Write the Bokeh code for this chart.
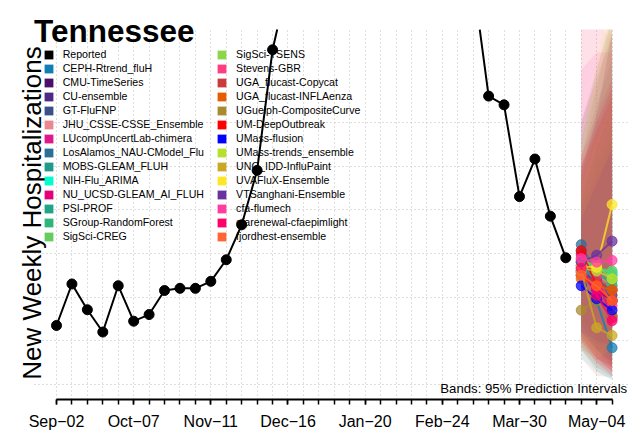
import math
import numpy as np
import pandas as pd
from bokeh.plotting import figure
from bokeh.models import (Range1d, FixedTicker, Legend, LegendItem, Label,
                          DatetimeTickFormatter)
from bokeh.embed import file_html
from bokeh.resources import INLINE

# ---------------- data ----------------
first_week = "2023-09-02"
last_axis_week = "2024-05-11"
reported = [67.5, 115, 85.5, 60, 113, 72.4, 80, 107.5, 110, 110, 118, 142.7,
            182.7, 245, 383, 460, 620, 760, 700, 560, 500, 470, 480, 510,
            530, 520, 500, 463, 330, 320, 215, 258, 192.6, 145]
forecast_weeks = ["2024-04-27", "2024-05-04", "2024-05-11"]

models = ["CEPH-Rtrend_fluH", "CMU-TimeSeries", "CU-ensemble", "GT-FluFNP",
          "JHU_CSSE-CSSE_Ensemble", "LUcompUncertLab-chimera",
          "LosAlamos_NAU-CModel_Flu", "MOBS-GLEAM_FLUH", "NIH-Flu_ARIMA",
          "NU_UCSD-GLEAM_AI_FLUH", "PSI-PROF", "SGroup-RandomForest",
          "SigSci-CREG", "SigSci-TSENS", "Stevens-GBR", "UGA_flucast-Copycat",
          "UGA_flucast-INFLAenza", "UGuelph-CompositeCurve", "UM-DeepOutbreak",
          "UMass-flusion", "UMass-trends_ensemble", "UNC_IDD-InfluPaint",
          "UVAFluX-Ensemble", "VTSanghani-Ensemble", "cfa-flumech",
          "cfarenewal-cfaepimlight", "fjordhest-ensemble"]
colors = ["#117DB5", "#4B0F6B", "#4C2A85", "#3D4F8B", "#E8888F", "#E0198A",
          "#2D6E94", "#1F9A8A", "#00FFCC", "#E6007E", "#20A386", "#2DB57A",
          "#66CC5C", "#8CD64A", "#FF3D7F", "#CC3B3B", "#E65C00", "#A88B2E",
          "#FF0000", "#0000FF", "#B5E02E", "#C9A923", "#FDE725", "#6A329F",
          "#FF3DA0", "#FF0066", "#FF6633"]

median_h0 = [153, 125, 130, 128, 140, 133, 160, 136, 140, 148, 130, 136, 140,
             142, 144, 125, 121, 85, 153, 113, 133, 130, 135, 140, 144, 133, 125]
median_h1 = [96, 108, 113, 119, 125, 108, 125, 133, 133, 119, 125, 130, 133,
             136, 125, 117, 113, 96, 113, 98, 130, 65, 134, 148, 140, 102, 113]
median_h2 = [42, 96, 102, 108, 113, 76, 96, 125, 128, 78, 119, 113, 130,
             121, 90, 108, 108, 79, 96, 85, 121, 56, 206, 164, 142, 73, 96]

lower_h0 = [40, 60, 70, 50, 45, 55, 80, 60, 30, 50, 70, 60, 55, 55, 40, 30,
            45, 40, 70, 60, 60, 40, 50, 60, 50, 55, 50]
lower_h1 = [15, 40, 45, 30, 25, 30, 50, 40, 15, 25, 50, 35, 35, 35, 20, 10,
            25, 30, 40, 40, 40, 20, 30, 50, 30, 30, 30]
lower_h2 = [5, 25, 30, 20, 10, 15, 30, 25, 5, 10, 35, 20, 20, 25, 8, 8,
            15, 20, 20, 25, 25, 10, 40, 45, 20, 15, 15]
upper_h0 = [300, 200, 210, 250, 420, 240, 260, 230, 280, 260, 200, 220, 240,
            250, 430, 300, 260, 180, 250, 190, 230, 280, 270, 240, 360, 250, 230]
upper_h1 = [360, 250, 270, 300, 420, 290, 320, 290, 340, 310, 240, 260, 300,
            310, 430, 350, 340, 220, 290, 230, 280, 360, 370, 310, 380, 300, 300]
upper_h2 = [420, 290, 320, 350, 390, 330, 370, 340, 400, 350, 280, 300, 340,
            380, 400, 400, 420, 250, 330, 270, 320, 430, 450, 400, 380, 340, 410]

y_grid_values = [0, 50, 100, 150, 200, 250, 300]
tick_label_weeks = ["2023-09-02", "2023-10-07", "2023-11-11", "2023-12-16",
                    "2024-01-20", "2024-02-24", "2024-03-30", "2024-05-04"]

# plot-region limits (R style: data limits padded by 4%)
Y_BOTTOM, Y_TOP = -17.2, 406.2

# ---------------- helpers ----------------
def ms(d):
    return pd.Timestamp(d).value / 1e6

DAY = 86400000.0
start_ms = ms(first_week)
end_ms = ms(last_axis_week)
span = end_ms - start_ms
region_left = start_ms - 0.04 * span
rep_x = [start_ms + 7 * DAY * i for i in range(len(reported))]
fc_x = [ms(d) for d in forecast_weeks]
weekly = []
t = start_ms
while t <= end_ms + 1:
    weekly.append(t)
    t += 7 * DAY
major = [ms(d) for d in tick_label_weeks]


def clip_line(xs, ys, ytop):
    ox, oy = [], []
    for i in range(len(xs)):
        if i > 0 and (ys[i - 1] > ytop) != (ys[i] > ytop):
            f = (ytop - ys[i - 1]) / (ys[i] - ys[i - 1])
            ox.append(xs[i - 1] + f * (xs[i] - xs[i - 1]))
            oy.append(ytop)
        if ys[i] <= ytop:
            ox.append(xs[i])
            oy.append(ys[i])
        elif i > 0 and ys[i - 1] <= ytop:
            ox.append(float("nan"))
            oy.append(float("nan"))
    return ox, oy


def clip_band(xs, lo, hi, ytop):
    nx = [xs[0]]
    for i in range(1, len(xs)):
        if (hi[i - 1] - ytop) * (hi[i] - ytop) < 0:
            f = (ytop - hi[i - 1]) / (hi[i] - hi[i - 1])
            nx.append(xs[i - 1] + f * (xs[i] - xs[i - 1]))
        nx.append(xs[i])
    nlo = np.interp(nx, xs, lo)
    nhi = np.minimum(np.interp(nx, xs, hi), ytop)
    return nx, list(nlo), list(nhi)


# ---------------- figure ----------------
p = figure(width=629, height=432, x_axis_type="datetime",
           output_backend="svg", toolbar_location=None, title=None,
           x_range=Range1d(start_ms - 25.40 * DAY, start_ms + 259.9 * DAY),
           y_range=Range1d(Y_BOTTOM, 439.4),
           min_border_left=0, min_border_right=0, min_border_top=0,
           min_border_bottom=33)
p.outline_line_color = None
p.background_fill_color = "white"
p.border_fill_color = "white"

p.yaxis.visible = False
xa = p.xaxis[0]
xa.ticker = FixedTicker(ticks=major, minor_ticks=weekly)
fmt = "%b\u2212%d"
xa.formatter = DatetimeTickFormatter(days=fmt, months=fmt, years=fmt,
                                     hours=fmt, minutes=fmt, seconds=fmt,
                                     milliseconds=fmt, minsec=fmt,
                                     hourmin=fmt, microseconds=fmt,
                                     context=None)
xa.bounds = (start_ms, end_ms)
xa.axis_line_width = 2
xa.axis_line_color = "black"
xa.major_tick_in = 0
xa.major_tick_out = 5
xa.minor_tick_in = 0
xa.minor_tick_out = 5
xa.major_tick_line_width = 1.5
xa.minor_tick_line_width = 1.5
xa.major_tick_line_color = "black"
xa.minor_tick_line_color = "black"
xa.major_label_text_font = "Liberation Sans"
xa.major_label_text_font_size = "16px"
xa.major_label_text_color = "black"
xa.major_label_standoff = 8

xg, yg = p.xgrid[0], p.ygrid[0]
xg.ticker = FixedTicker(ticks=weekly)
yg.ticker = FixedTicker(ticks=y_grid_values)
xg.cross_bounds = (Y_BOTTOM, Y_TOP)
yg.cross_bounds = (region_left, start_ms + 259.9 * DAY)
for g in (xg, yg):
    g.grid_line_color = "#BEBEBE"
    g.grid_line_dash = "1 3"
    g.grid_line_width = 1

# prediction bands
for i, c in enumerate(colors):
    bx, blo, bhi = clip_band(fc_x, [lower_h0[i], lower_h1[i], lower_h2[i]],
                             [upper_h0[i], upper_h1[i], upper_h2[i]], Y_TOP)
    p.varea(x=bx, y1=blo, y2=bhi, fill_color=c, fill_alpha=0.1)

# reported
lx, ly = clip_line(rep_x, reported, Y_TOP)
p.line(lx, ly, line_color="black", line_width=2)
p.scatter(rep_x, reported, size=10, color="black")

# forecasts
for i, c in enumerate(colors):
    ys = [median_h0[i], median_h1[i], median_h2[i]]
    p.line(fc_x, ys, line_color=c, line_width=2, line_alpha=0.75)
    p.scatter(fc_x, ys, size=10, color=c, alpha=0.75)

# legend (two columns)
names = ["Reported"] + models
cols = ["black"] + colors
items = []
nan = float("nan")
for n, c in zip(names, cols):
    r = p.quad(left=[nan], right=[nan], top=[nan], bottom=[nan],
               fill_color=c, line_color=None)
    items.append(LegendItem(label=n, renderers=[r]))


def make_legend(its, x, y):
    return Legend(items=its, location=(x, y), padding=0, margin=0, spacing=0,
                  glyph_width=11, glyph_height=11, label_height=14,
                  label_standoff=9, label_text_font="Liberation Sans",
                  label_text_font_size="10.6px", label_text_color="black",
                  border_line_alpha=0, background_fill_alpha=0)


p.add_layout(make_legend(items[:14], 42.7, 155.7))
p.add_layout(make_legend(items[14:], 216.1, 155.7))

# texts
p.add_layout(Label(x=33.6, y=369, x_units="screen", y_units="screen",
                   text="Tennessee", text_font="Liberation Sans",
                   text_font_size="31.5px", text_font_style="bold",
                   text_color="black", text_baseline="alphabetic"))
p.add_layout(Label(x=31.5, y=186.5, x_units="screen", y_units="screen",
                   text="New Weekly Hospitalizations", angle=math.pi / 2,
                   text_font="Liberation Sans", text_font_size="26px",
                   text_color="black", text_align="center",
                   text_baseline="alphabetic"))
p.add_layout(Label(x=626.7, y=11, x_units="screen", y_units="screen",
                   text="Bands: 95% Prediction Intervals",
                   text_font="Liberation Sans", text_font_size="13.2px",
                   text_color="black", text_align="right",
                   text_baseline="alphabetic"))

open("out.html", "w").write(file_html(p, INLINE))
